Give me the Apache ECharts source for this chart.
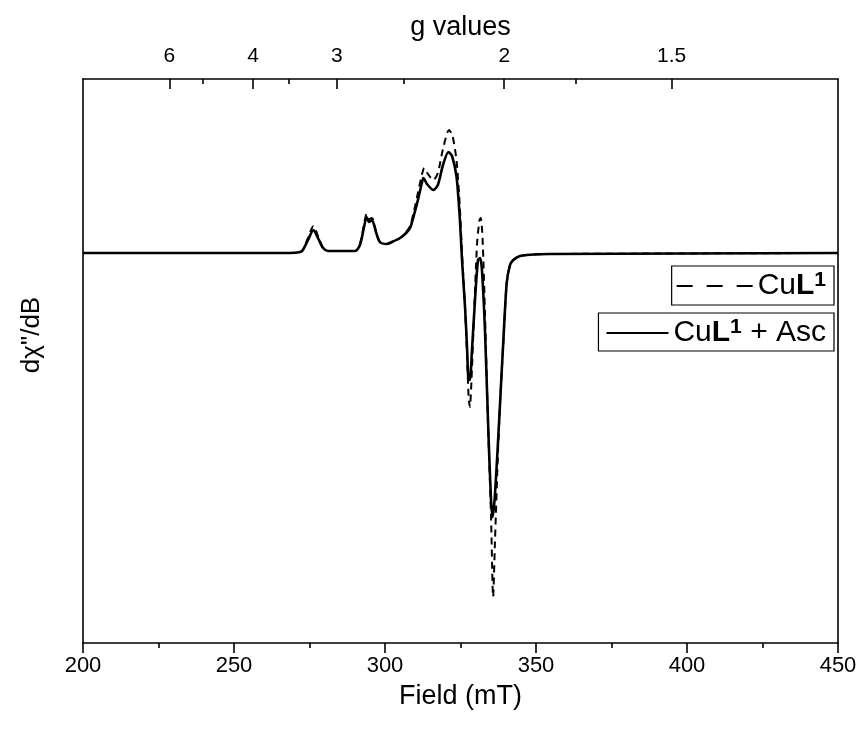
<!DOCTYPE html>
<html><head><meta charset="utf-8">
<script src="https://cdn.jsdelivr.net/npm/echarts@6/dist/echarts.min.js"></script>
<style>html,body{margin:0;padding:0;background:#fff}#c{width:861px;height:740px}</style>
</head><body><div id="c"></div>
<script>
// Field (mT) positions and signal values (arbitrary units)
const fieldAsc = [200, 268.5, 271.9, 272.8, 274.5, 276.3, 277.8, 279.5, 281.1, 290.1, 291.7, 293.0, 293.9, 294.7, 295.7, 297.0, 298.3, 300.6, 302.3, 305.0, 307.0, 308.3, 309.6, 310.9, 312.2, 312.7, 313.9, 316.0, 317.5, 319.2, 321.0, 322.2, 323.7, 324.8, 325.5, 326.5, 327.2, 327.6, 328.1, 328.8, 329.8, 330.8, 331.5, 332.1, 333.1, 334.1, 335.1, 335.7, 336.4, 337.4, 338.1, 339.2, 340.3, 341.4, 342.5, 344.7, 347.0, 354.6, 450];
const valueAsc = [0, 0, 1, 3, 13, 23, 15, 5, 2, 2, 8, 25, 36, 31, 33, 21, 11, 9, 11, 15, 20, 25, 38, 53, 70, 75, 69, 63, 68, 88, 101, 97, 76, 33, -7, -54, -97, -125, -127, -97, -47, -7, -5, -17, -77, -167, -247, -264, -242, -190, -150, -87, -30, -12, -7, -3, -2, -1, 0];
const fieldCuL = [200, 268.5, 271.9, 272.8, 274.5, 276.3, 277.8, 279.5, 281.1, 290.1, 291.7, 293.0, 293.9, 294.7, 295.7, 297.0, 298.3, 300.6, 302.3, 305.0, 307.0, 308.3, 309.6, 310.9, 312.2, 313.0, 314.0, 316.0, 317.5, 319.2, 321.2, 322.3, 323.7, 324.8, 325.5, 326.5, 327.2, 327.7, 328.1, 328.6, 329.5, 330.5, 331.3, 331.7, 332.3, 333.1, 334.1, 335.1, 335.8, 336.4, 337.4, 338.1, 339.2, 340.3, 341.4, 342.5, 344.7, 347.0, 354.6, 450];
const valueCuL = [0, 0, 1, 3, 15, 27, 17, 5, 2, 2, 9, 28, 39, 34, 35, 22, 11, 9, 11, 15, 21, 27, 42, 60, 78, 85, 80, 73, 80, 104, 123, 118, 92, 45, 0, -55, -105, -145, -154, -130, -60, 10, 33, 35, 15, -60, -170, -262, -344, -290, -200, -150, -88, -30, -12, -7, -3, -2, -1, 0];
const seriesNames = ['CuL1', 'CuL1 + Asc'];
const gTicks = [6, 4, 3, 2, 1.5];
const gMinorTicks = [5, 3.5, 2.5, 1.75];

const FONT = '"Liberation Sans", Arial, sans-serif';
const pair = (xs, ys) => xs.map((x, i) => [x, ys[i]]);
const invG = gTicks.map(g => 1 / g);
const invGMinor = gMinorTicks.map(g => 1 / g);

const chart = echarts.init(document.getElementById('c'));
const legendFmt = name => name === 'CuL1' ? '{n|Cu}{b|L}{s|1}' : '{n|Cu}{b|L}{s|1}{n| + Asc}';
const legendText = {
  fontFamily: FONT, fontSize: 30, color: '#000',
  rich: {
    n: { fontFamily: FONT, fontSize: 30, color: '#000', lineHeight: 32 },
    b: { fontFamily: FONT, fontSize: 30, fontWeight: 'bold', color: '#000', lineHeight: 32 },
    s: { fontFamily: FONT, fontSize: 21, fontWeight: 'bold', color: '#000', verticalAlign: 'top', lineHeight: 20 }
  }
};
chart.setOption({
  animation: false,
  backgroundColor: '#fff',
  grid: { left: 83, right: 23, top: 79, bottom: 97, containLabel: false },
  legend: [
    { data: [seriesNames[0]], right: 27, top: 266, orient: 'horizontal', align: 'left',
      itemWidth: 76, itemHeight: 20, padding: [4, 8, 4, 4], borderColor: '#000', borderWidth: 1.2,
      itemStyle: { opacity: 0 },
      formatter: legendFmt, textStyle: legendText, lineStyle: { type: [16, 14] } },
    { data: [seriesNames[1]], right: 27, top: 313, orient: 'horizontal', align: 'left',
      itemWidth: 62, itemHeight: 20, padding: [4, 8, 3, 7], borderColor: '#000', borderWidth: 1.2,
      itemStyle: { opacity: 0 },
      formatter: legendFmt, textStyle: legendText }
  ],
  xAxis: [
    { type: 'value', position: 'bottom', min: 200, max: 450, interval: 50,
      name: 'Field (mT)', nameLocation: 'middle', nameGap: 40,
      nameTextStyle: { fontFamily: FONT, fontSize: 27, color: '#000' },
      axisLine: { show: true, onZero: false, lineStyle: { color: '#000', width: 1.6 } },
      axisTick: { show: true, inside: false, length: 10, lineStyle: { color: '#000', width: 1.6 } },
      minorTick: { show: true, splitNumber: 2, length: 5, lineStyle: { color: '#000', width: 1.6 } },
      axisLabel: { fontFamily: FONT, fontSize: 22, color: '#000', margin: 12 },
      splitLine: { show: false } },
    { type: 'value', position: 'top', min: 0.08078, max: 0.83218,
      name: 'g values', nameLocation: 'middle', nameGap: 38,
      nameTextStyle: { fontFamily: FONT, fontSize: 27, color: '#000' },
      axisLine: { show: true, onZero: false, lineStyle: { color: '#000', width: 1.6 } },
      axisTick: { show: true, inside: true, length: 10, customValues: invG, lineStyle: { color: '#000', width: 1.6 } },
      axisLabel: { show: true, customValues: invG, fontFamily: FONT, fontSize: 21, color: '#000', margin: 12,
        formatter: v => String(+(1 / v).toFixed(2)) },
      splitLine: { show: false } },
    { type: 'value', position: 'top', min: 0.08078, max: 0.83218,
      axisLine: { show: false, onZero: false },
      axisTick: { show: true, inside: true, length: 5, customValues: invGMinor, lineStyle: { color: '#000', width: 1.6 } },
      axisLabel: { show: false }, splitLine: { show: false } }
  ],
  yAxis: [
    { type: 'value', position: 'left', min: -390, max: 174,
      name: 'dχ"/dB', nameLocation: 'middle', nameGap: 38,
      nameTextStyle: { fontFamily: FONT, fontSize: 26, color: '#000', padding: [0, 0, 0, 52] },
      axisLine: { show: true, onZero: false, lineStyle: { color: '#000', width: 1.6 } },
      axisTick: { show: false }, axisLabel: { show: false }, splitLine: { show: false } },
    { type: 'value', position: 'right', min: -390, max: 174,
      axisLine: { show: true, onZero: false, lineStyle: { color: '#000', width: 1.6 } },
      axisTick: { show: false }, axisLabel: { show: false }, splitLine: { show: false } }
  ],
  series: [
    { name: seriesNames[0], type: 'line', xAxisIndex: 0, yAxisIndex: 0, data: pair(fieldCuL, valueCuL),
      symbol: 'none', smooth: 0.25, lineStyle: { color: '#000', width: 2, type: [7, 5] }, itemStyle: { color: '#000' }, z: 2 },
    { name: seriesNames[1], type: 'line', xAxisIndex: 0, yAxisIndex: 0, data: pair(fieldAsc, valueAsc),
      symbol: 'none', smooth: 0.25, lineStyle: { color: '#000', width: 2.6 }, itemStyle: { color: '#000' }, z: 3 }
  ]
});
</script></body></html>
